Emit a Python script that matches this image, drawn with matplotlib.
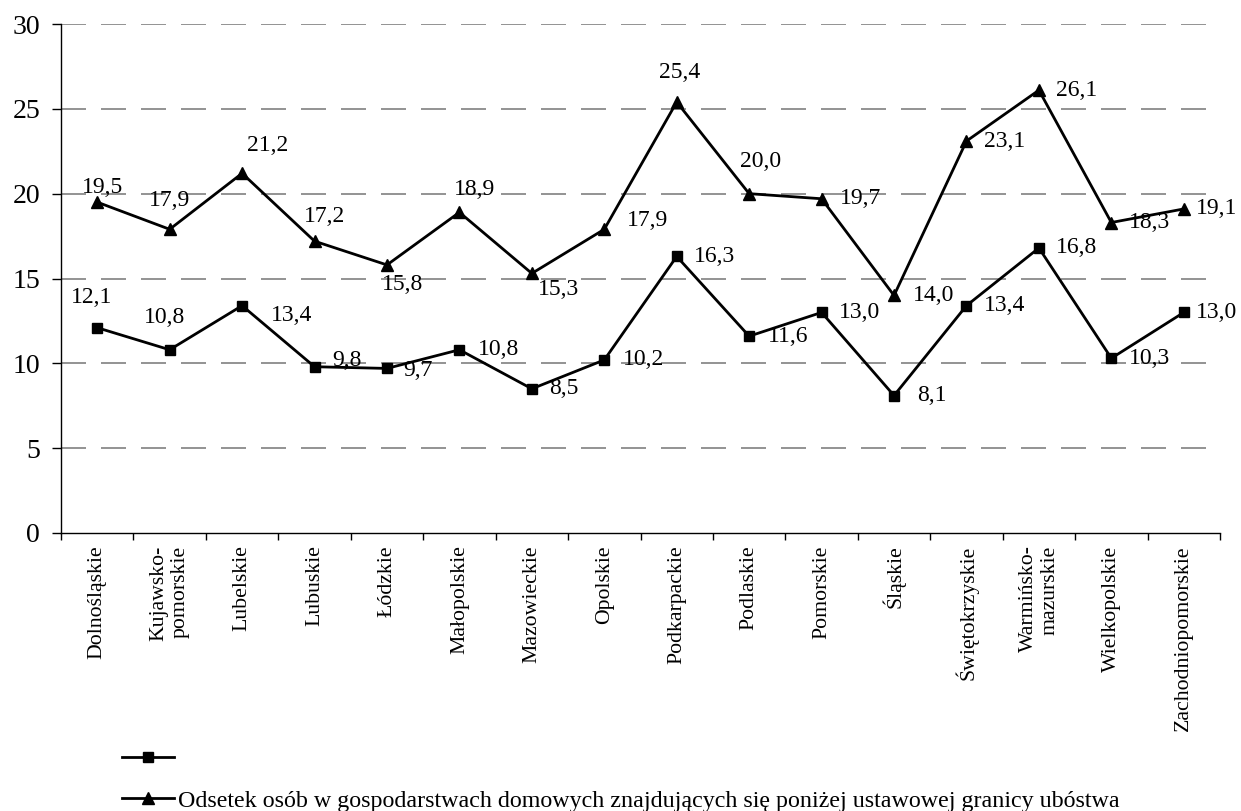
import matplotlib
matplotlib.use("Agg")
import matplotlib.pyplot as plt
from matplotlib.lines import Line2D

plt.rcParams["font.family"] = ["Liberation Serif", "DejaVu Serif"]

regions = ["Dolnośląskie", "Kujawsko-\npomorskie", "Lubelskie", "Lubuskie", "Łódzkie",
           "Małopolskie", "Mazowieckie", "Opolskie", "Podkarpackie", "Podlaskie",
           "Pomorskie", "Śląskie", "Świętokrzyskie", "Warmińsko-\nmazurskie",
           "Wielkopolskie", "Zachodniopomorskie"]

series_square = [12.1, 10.8, 13.4, 9.8, 9.7, 10.8, 8.5, 10.2, 16.3, 11.6,
                 13.0, 8.1, 13.4, 16.8, 10.3, 13.0]
series_triangle = [19.5, 17.9, 21.2, 17.2, 15.8, 18.9, 15.3, 17.9, 25.4, 20.0,
                   19.7, 14.0, 23.1, 26.1, 18.3, 19.1]

label_square = ""
label_triangle = ("Odsetek osób w gospodarstwach domowych znajdujących się "
                  "poniżej ustawowej granicy ubóstwa")

y_ticks = [0, 5, 10, 15, 20, 25, 30]

# value label offsets (pixels, centre of text relative to the marker)
off_square = [(-6, -30), (-5, -32), (50, 10), (32, -6), (31, 2), (39, 0), (32, 0),
              (39, 0), (38, 0), (39, 0), (38, 0), (38, 0), (38, 0), (38, 0),
              (38, 0), (33, 0)]
off_triangle = [(5, -15), (0, -29), (26, -28), (10, -25), (16, 20), (15, -23),
                (27, 16), (43, -9), (3, -30), (11, -32), (39, 0), (40, 0),
                (38, 0), (38, 0), (38, 0), (33, 0)]

fig = plt.figure(figsize=(12.41, 8.11), dpi=100)
ax = fig.add_axes([61 / 1241, 1 - 533 / 811, (1220 - 61) / 1241, (533 - 24) / 811])

n = len(regions)
xs = [i + 0.5 for i in range(n)]

ln_sq, = ax.plot(xs, series_square, color="black", lw=2, marker="s", ms=7.5,
                 zorder=3)
ln_tr, = ax.plot(xs, series_triangle, color="black", lw=2, marker="^", ms=9,
                 zorder=3)

def fmt(v):
    return f"{v:.1f}".replace(".", ",")

for x, v, (dx, dy) in zip(xs, series_square, off_square):
    ax.annotate(fmt(v), (x, v), xytext=(dx, -dy), textcoords="offset pixels",
                ha="center", va="center", fontsize=17, zorder=4)
for x, v, (dx, dy) in zip(xs, series_triangle, off_triangle):
    ax.annotate(fmt(v), (x, v), xytext=(dx, -dy), textcoords="offset pixels",
                ha="center", va="center", fontsize=17, zorder=4)

ax.set_xlim(0, n)
ax.set_ylim(0, 30)
ax.set_yticks(y_ticks)
ax.set_yticklabels([str(t) for t in y_ticks], fontsize=20)
ax.tick_params(axis="y", length=6.5, width=1, direction="out", pad=8.5)

ax.set_xticks(range(n + 1))
ax.set_xticklabels([])
ax.tick_params(axis="x", which="major", length=5, width=1, direction="out")
ax.set_xticks(xs, minor=True)
ax.set_xticklabels(regions, minor=True, rotation=90, fontsize=15.7,
                   va="top", ha="center", multialignment="right")
ax.tick_params(axis="x", which="minor", length=0, pad=9)

for yv in y_ticks[1:]:
    ax.axhline(yv, color="#808080", lw=1.2, dashes=(15, 9), zorder=1)

for s in ("top", "right"):
    ax.spines[s].set_visible(False)
for s in ("left", "bottom"):
    ax.spines[s].set_linewidth(1)
    ax.spines[s].set_color("black")

h_sq = Line2D([], [], color="black", lw=2, marker="s", ms=7.5)
h_tr = Line2D([], [], color="black", lw=2, marker="^", ms=9)
fig.legend([h_sq, h_tr], [label_square, label_triangle],
           loc="upper left", bbox_to_anchor=(122 / 1241, 1 - 749 / 811),
           frameon=False, fontsize=17.3, handlelength=2.17, handletextpad=0.17,
           labelspacing=0.8, borderpad=0, borderaxespad=0)

fig.savefig("out.png", dpi=100)
